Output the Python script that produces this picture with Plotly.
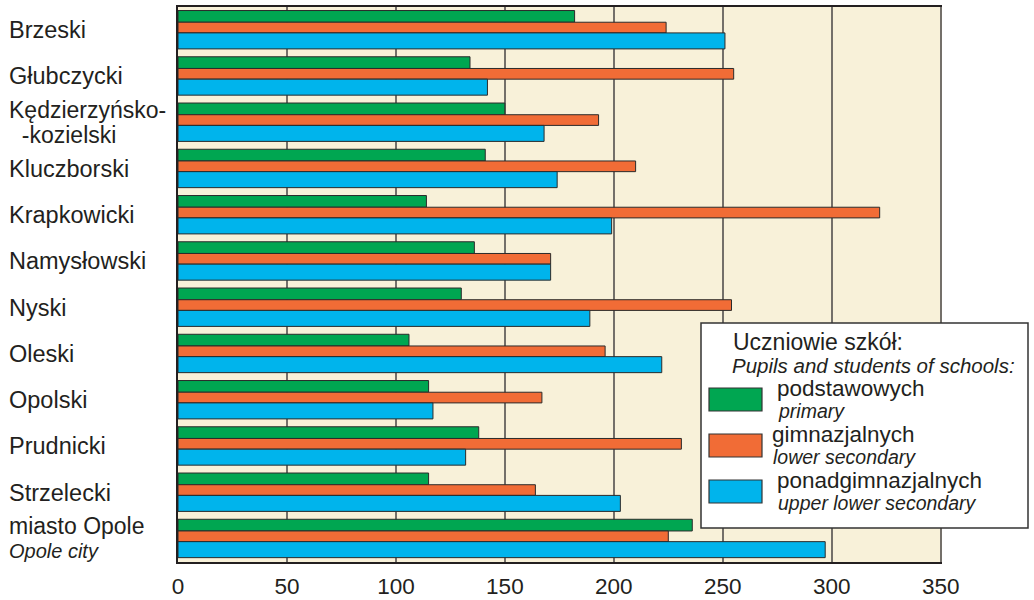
import plotly.graph_objects as go

# ---------------- data ----------------
categories = [
    "Brzeski", "Głubczycki", "Kędzierzyńsko-\n\u00a0\u00a0-kozielski", "Kluczborski",
    "Krapkowicki", "Namysłowski", "Nyski", "Oleski", "Opolski", "Prudnicki",
    "Strzelecki", "miasto Opole\n<i>Opole city</i>",
]
primary = [182, 134, 150, 141, 114, 136, 130, 106, 115, 138, 115, 236]
lower_secondary = [224, 255, 193, 210, 322, 171, 254, 196, 167, 231, 164, 225]
upper_secondary = [251, 142, 168, 174, 199, 171, 189, 222, 117, 132, 203, 297]
x_ticks = [0, 50, 100, 150, 200, 250, 300, 350]

series_names = ["podstawowych", "gimnazjalnych", "ponadgimnazjalnych"]
series_names_en = ["primary", "lower secondary", "upper lower secondary"]
legend_title = "Uczniowie szkół:"
legend_subtitle = "Pupils and students of schools:"

# ---------------- style ----------------
colors = ["#00A651", "#F16C36", "#00B4EC"]
offsets = [-0.424, -0.171, 0.06]
widths = [0.253, 0.231, 0.346]
FONT = "Liberation Sans, Arial, sans-serif"
TXT = "#231F20"

W, H = 1034, 600
L, R, T, B = 178, 92, 7, 38
PW, PH = W - L - R, H - T - B
X_MAX = 350.6


def px_x(px):
    return (px - L) / PW


def px_y(py):
    return (H - B - py) / PH


fig = go.Figure()
ypos = list(range(len(categories)))
for vals, col, off, wd, nm in zip(
    [primary, lower_secondary, upper_secondary], colors, offsets, widths, series_names
):
    fig.add_trace(go.Bar(
        x=vals, y=ypos, orientation="h", name=nm,
        marker=dict(color=col, line=dict(color="#2b2b2b", width=1)),
        offset=off, width=wd, showlegend=False, hoverinfo="x+name",
    ))

annotations = []
shapes = []

# category labels (left aligned)
for i, cat in enumerate(categories):
    lines = cat.split("\n")
    if len(lines) == 1:
        annotations.append(dict(
            x=px_x(7), xref="paper", y=i, yref="y", text=lines[0],
            xanchor="left", yanchor="middle", showarrow=False,
            font=dict(family=FONT, size=23.5, color=TXT),
        ))
    else:
        italic = lines[1].startswith("<i>")
        annotations.append(dict(
            x=px_x(7), xref="paper", y=i - 0.27, yref="y", text=lines[0],
            xanchor="left", yanchor="middle", showarrow=False,
            font=dict(family=FONT, size=23, color=TXT),
        ))
        annotations.append(dict(
            x=px_x(7), xref="paper", y=i + 0.26, yref="y",
            text=lines[1],
            xanchor="left", yanchor="middle", showarrow=False,
            font=dict(family=FONT, size=20 if italic else 23, color=TXT),
        ))

# legend box
shapes.append(dict(
    type="rect", xref="paper", yref="paper",
    x0=px_x(701), x1=px_x(1028), y0=px_y(528), y1=px_y(323),
    fillcolor="white", line=dict(color="#333333", width=1.5), layer="above",
))
annotations.append(dict(
    x=px_x(731), xref="paper", y=px_y(342), yref="paper", text=legend_title,
    xanchor="left", yanchor="middle", showarrow=False,
    font=dict(family=FONT, size=23, color=TXT),
))
annotations.append(dict(
    x=px_x(730), xref="paper", y=px_y(365), yref="paper", text="<i>" + legend_subtitle + "</i>",
    xanchor="left", yanchor="middle", showarrow=False,
    font=dict(family=FONT, size=20.5, color=TXT),
))
sw_top = [388, 434, 480]
txt_left = [775, 770, 775]
for k in range(3):
    top = sw_top[k]
    shapes.append(dict(
        type="rect", xref="paper", yref="paper",
        x0=px_x(709), x1=px_x(762), y0=px_y(top + 23), y1=px_y(top),
        fillcolor=colors[k], line=dict(color="#333333", width=1.2), layer="above",
    ))
    annotations.append(dict(
        x=px_x(txt_left[k]), xref="paper", y=px_y(top), yref="paper", text=series_names[k],
        xanchor="left", yanchor="middle", showarrow=False,
        font=dict(family=FONT, size=22.5, color=TXT),
    ))
    annotations.append(dict(
        x=px_x(txt_left[k] + 1), xref="paper", y=px_y(top + 23), yref="paper",
        text="<i>" + series_names_en[k] + "</i>",
        xanchor="left", yanchor="middle", showarrow=False,
        font=dict(family=FONT, size=19.5, color=TXT),
    ))

fig.update_layout(
    width=W, height=H,
    margin=dict(l=L, r=R, t=T, b=B, autoexpand=False),
    paper_bgcolor="white", plot_bgcolor="#F8F1D9",
    barmode="overlay",
    xaxis=dict(
        range=[0, X_MAX], tickvals=x_ticks, ticktext=[str(v) for v in x_ticks],
        showgrid=True, gridcolor="#74706a", gridwidth=1.6,
        showline=True, linecolor="#231F20", linewidth=1.5, mirror=True,
        ticks="", ticklabelstandoff=3, zeroline=False, automargin=False,
        tickfont=dict(family=FONT, size=22.5, color=TXT),
    ),
    yaxis=dict(
        range=[len(categories) - 0.5, -0.5], showticklabels=False,
        showgrid=False, zeroline=False, ticks="", automargin=False,
        showline=True, linecolor="#231F20", linewidth=1.5,
    ),
    annotations=annotations, shapes=shapes,
    showlegend=False,
)

fig.write_html("out.html", config={"displayModeBar": False},
               post_script="document.body.style.margin='0';")
